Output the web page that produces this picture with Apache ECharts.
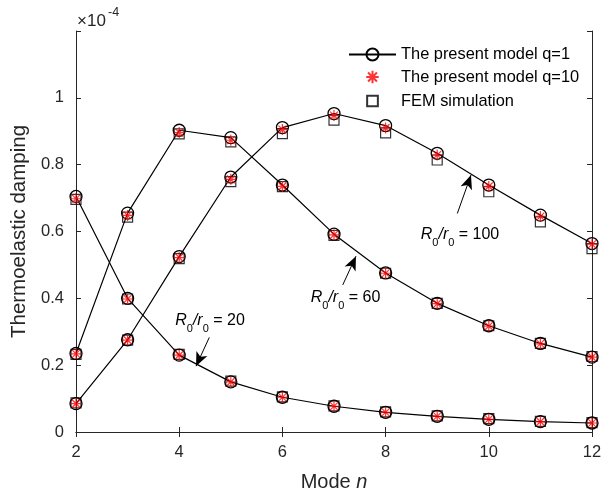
<!DOCTYPE html>
<html>
<head>
<meta charset="utf-8">
<script src="https://cdn.jsdelivr.net/npm/echarts@6/dist/echarts.min.js"></script>
<style>
html,body{margin:0;padding:0;background:#fff;}
#chart{width:613px;height:493px;}
</style>
</head>
<body>
<div id="chart"></div>
<script>
// Values are in units of 1e-4 (axis shows ×10^-4)
const modes = [2, 3, 4, 5, 6, 7, 8, 9, 10, 11, 12];
const xTicks = [2, 4, 6, 8, 10, 12];
const yTicks = [0, 0.2, 0.4, 0.6, 0.8, 1];

// The present model q=1
const q1_r20  = [0.705, 0.400, 0.230, 0.150, 0.104, 0.077, 0.059, 0.047, 0.038, 0.031, 0.027];
const q1_r60  = [0.235, 0.655, 0.903, 0.881, 0.739, 0.592, 0.476, 0.385, 0.318, 0.265, 0.224];
const q1_r100 = [0.085, 0.276, 0.525, 0.763, 0.911, 0.953, 0.917, 0.834, 0.739, 0.649, 0.564];
// The present model q=10
const q10_r20  = [0.698, 0.398, 0.230, 0.150, 0.104, 0.077, 0.059, 0.047, 0.038, 0.031, 0.027];
const q10_r60  = [0.234, 0.648, 0.896, 0.873, 0.735, 0.590, 0.475, 0.384, 0.317, 0.264, 0.224];
const q10_r100 = [0.085, 0.275, 0.522, 0.756, 0.905, 0.947, 0.910, 0.829, 0.735, 0.645, 0.562];
// FEM simulation
const fem_r20  = [0.696, 0.398, 0.232, 0.152, 0.105, 0.078, 0.060, 0.048, 0.040, 0.032, 0.028];
const fem_r60  = [0.232, 0.643, 0.892, 0.868, 0.734, 0.588, 0.475, 0.385, 0.318, 0.265, 0.226];
const fem_r100 = [0.087, 0.275, 0.519, 0.749, 0.893, 0.933, 0.895, 0.814, 0.719, 0.629, 0.549];

const ratioLabels = ['20', '60', '100'];

const FONT = "'Liberation Sans', Arial, Helvetica, sans-serif";
const AX = '#262626';
const STAR = 'path://M5,0L5,10M0,5L10,5M1.46,1.46L8.54,8.54M1.46,8.54L8.54,1.46';
const STAR_LEG = 'path://M-1,-1M11,11M5,0L5,10M0,5L10,5M1.46,1.46L8.54,8.54M1.46,8.54L8.54,1.46';
const SQ = 'path://M0,0L10,0L10,10L0,10Z';
const SQ_LEG = 'path://M-2,-2M12,12M0,0L10,0L10,10L0,10Z';

const pairs = arr => modes.map((n, i) => [n, arr[i]]);

// annotation anchors in data space
const arrowLines = [
  [[4.583, 0.283], [4.326, 0.197]],
  [[7.169, 0.440], [7.426, 0.526]],
  [[9.390, 0.654], [9.655, 0.769]]
];
const labelAnchors = [[4.597, 0.325], [7.223, 0.393], [9.442, 0.583]];

const N1 = 'The present model q=1', N10 = 'The present model q=10', NF = 'FEM simulation';

function lineSeries(arr, extra) {
  return Object.assign({
    name: N1, type: 'line', data: pairs(arr), symbol: 'circle', symbolSize: 12,
    lineStyle: {color: '#000', width: 1.2},
    itemStyle: {color: 'none', borderColor: '#000', borderWidth: 1.3},
    emphasis: {disabled: true}, z: 2, animation: false
  }, extra || {});
}
function starSeries(arr) {
  return {name: N10, type: 'scatter', data: pairs(arr), symbol: STAR, symbolSize: 11,
    itemStyle: {color: 'none', borderColor: '#ff0000', borderWidth: 1.2},
    emphasis: {disabled: true}, z: 4, animation: false};
}
function sqSeries(arr) {
  return {name: NF, type: 'scatter', data: pairs(arr), symbol: SQ, symbolSize: 10,
    itemStyle: {color: 'none', borderColor: '#000', borderWidth: 1.2},
    emphasis: {disabled: true}, z: 3, animation: false};
}

const richLab = {
  i: {fontFamily: FONT, fontSize: 16, fontStyle: 'italic', color: '#000', lineHeight: 22, verticalAlign: 'top'},
  n: {fontFamily: FONT, fontSize: 16, color: '#000', lineHeight: 22, verticalAlign: 'top'},
  s: {fontFamily: FONT, fontSize: 11, color: '#000', lineHeight: 11, verticalAlign: 'bottom'}
};

const chart = echarts.init(document.getElementById('chart'), null, {renderer: 'canvas'});
const option = {
  animation: false,
  backgroundColor: '#fff',
  textStyle: {fontFamily: FONT},
  grid: {left: 76, right: 21, top: 31, bottom: 61, containLabel: false, outerBoundsMode: 'none'},
  legend: {
    orient: 'vertical', left: 348, top: 46, itemWidth: 47, itemHeight: 15, itemGap: 4,
    padding: 0, selectedMode: false,
    textStyle: {fontFamily: FONT, fontSize: 16.4, color: '#000'},
    data: [{name: N1}, {name: N10, icon: STAR_LEG}, {name: NF, icon: SQ_LEG}]
  },
  xAxis: [{
    type: 'value', min: 2, max: 12, interval: 2, position: 'bottom',
    name: 'Mode {i|n}', nameLocation: 'middle', nameGap: 40,
    nameTextStyle: {fontFamily: FONT, fontSize: 20, color: AX,
      rich: {i: {fontFamily: FONT, fontSize: 20, fontStyle: 'italic', color: AX}}},
    axisLine: {show: true, lineStyle: {color: AX, width: 1}},
    axisTick: {show: true, inside: true, length: 5, lineStyle: {color: AX}},
    axisLabel: {fontFamily: FONT, fontSize: 16.5, color: AX, margin: 12,
      formatter: v => xTicks.indexOf(v) >= 0 ? String(v) : ''},
    splitLine: {show: false}
  }, {
    type: 'value', min: 2, max: 12, interval: 2, position: 'top',
    axisLine: {show: true, lineStyle: {color: AX, width: 1}},
    axisTick: {show: true, inside: true, length: 5, lineStyle: {color: AX}},
    axisLabel: {show: false}, splitLine: {show: false}
  }],
  yAxis: [{
    type: 'value', min: 0, max: 1.2, interval: 0.2, position: 'left',
    name: 'Thermoelastic damping', nameLocation: 'middle', nameGap: 41,
    nameTextStyle: {fontFamily: FONT, fontSize: 20.5, color: AX},
    axisLine: {show: true, lineStyle: {color: AX, width: 1}},
    axisTick: {show: true, inside: true, length: 5, lineStyle: {color: AX}},
    axisLabel: {fontFamily: FONT, fontSize: 16.5, color: AX, margin: 12,
      formatter: v => {
        const r = Math.round(v * 10) / 10;
        return yTicks.indexOf(r) >= 0 ? String(r) : '';
      }},
    splitLine: {show: false}
  }, {
    type: 'value', min: 0, max: 1.2, interval: 0.2, position: 'right',
    axisLine: {show: true, lineStyle: {color: AX, width: 1}},
    axisTick: {show: true, inside: true, length: 5, lineStyle: {color: AX}},
    axisLabel: {show: false}, splitLine: {show: false}
  }],
  graphic: [
    {type: 'text', x: 77, y: 21, silent: true,
      style: {text: '×10', fontFamily: FONT, fontSize: 17, fill: AX, align: 'left', verticalAlign: 'middle'}},
    {type: 'text', x: 108, y: 12.5, silent: true,
      style: {text: '-4', fontFamily: FONT, fontSize: 12.5, fill: AX, align: 'left', verticalAlign: 'middle'}}
  ],
  series: [
    lineSeries(q1_r20, {
      markLine: {
        silent: true, animation: false, symbol: ['none', 'arrow'],
        lineStyle: {color: '#000', width: 1, type: 'solid'},
        label: {show: false}, emphasis: {disabled: true},
        data: arrowLines.map(a => [
          {coord: a[0], symbol: 'none'},
          {coord: a[1], symbol: 'arrow', symbolSize: [9, 14]}
        ])
      },
      markPoint: {
        silent: true, animation: false, symbol: 'circle', symbolSize: 1,
        itemStyle: {color: 'rgba(0,0,0,0)'},
        data: labelAnchors.map((c, k) => ({
          coord: c, value: ratioLabels[k],
          label: {show: true, position: 'inside',
            formatter: '{i|R}{s|0}{i|/r}{s|0}{n| = ' + ratioLabels[k] + '}', rich: richLab}
        }))
      }
    }),
    lineSeries(q1_r60),
    lineSeries(q1_r100),
    sqSeries(fem_r20), sqSeries(fem_r60), sqSeries(fem_r100),
    starSeries(q10_r20), starSeries(q10_r60), starSeries(q10_r100)
  ]
};
chart.setOption(option);
</script>
</body>
</html>
